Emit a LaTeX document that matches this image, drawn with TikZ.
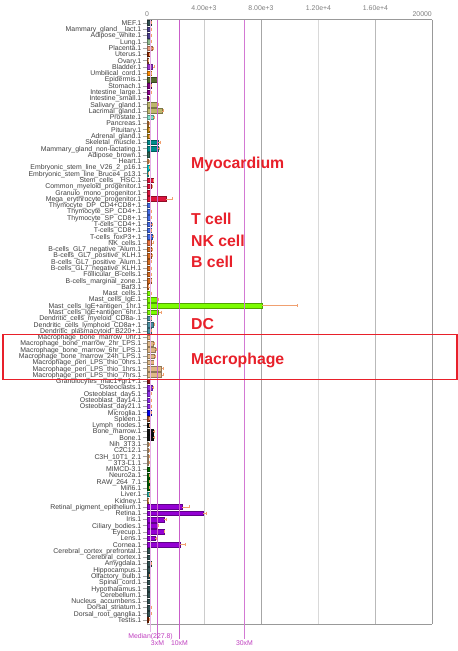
\documentclass[tikz,border=0pt]{standalone}
\usepackage{fontspec}
\setmainfont{Liberation Sans}
\definecolor{cSlate}{HTML}{2F4F4F}
\definecolor{cDSB}{HTML}{483D8B}
\definecolor{cLung}{HTML}{8FBC8F}
\definecolor{cPlac}{HTML}{E9967A}
\definecolor{cUter}{HTML}{8B2500}
\definecolor{cSienna}{HTML}{A0522D}
\definecolor{cOrch}{HTML}{9932CC}
\definecolor{cDOr}{HTML}{FF8C00}
\definecolor{cOlive}{HTML}{556B2F}
\definecolor{cPurp}{HTML}{800080}
\definecolor{cDMag}{HTML}{8B008B}
\definecolor{cKhaki}{HTML}{BDB76B}
\definecolor{cAqua}{HTML}{7FE0C8}
\definecolor{cPeru}{HTML}{CD853F}
\definecolor{cGold}{HTML}{B8860B}
\definecolor{cDCyan}{HTML}{008B8B}
\definecolor{cABrown}{HTML}{2E6B5A}
\definecolor{cSandy}{HTML}{F4A460}
\definecolor{cDTurq}{HTML}{00CED1}
\definecolor{cLSea}{HTML}{20B2AA}
\definecolor{cCrim}{HTML}{DC143C}
\definecolor{cRoyal}{HTML}{4169E1}
\definecolor{cNK}{HTML}{E9703A}
\definecolor{cChoc}{HTML}{D2691E}
\definecolor{cLawn}{HTML}{7CFC00}
\definecolor{cCadet}{HTML}{4A8FA0}
\definecolor{cBurly}{HTML}{DEB887}
\definecolor{cGran}{HTML}{8B1A1A}
\definecolor{cBViol}{HTML}{8A2BE2}
\definecolor{cBlue}{HTML}{0000EE}
\definecolor{cBlack}{HTML}{101010}
\definecolor{cTan}{HTML}{D2B48C}
\definecolor{cDGreen}{HTML}{006400}
\definecolor{cDViol}{HTML}{9400D3}
\definecolor{errc}{HTML}{F0A070}
\definecolor{medc}{HTML}{C040C0}
\definecolor{boxred}{HTML}{E8202A}
\definecolor{lblc}{HTML}{404040}
\tikzset{
  lbl/.style={font=\fontsize{6.9}{7}\selectfont, text=lblc, inner sep=0pt},
  axlbl/.style={font=\fontsize{6.9}{7}\selectfont, text=gray, inner sep=0pt},
  medlbl/.style={font=\fontsize{6.9}{7}\selectfont, text=medc, inner sep=0pt},
  group/.style={font=\bfseries\fontsize{15.8}{16}\selectfont, text=boxred, inner sep=0pt, anchor=base west},
  errbar/.style={draw=errc, line width=0.5pt},
}
\begin{document}
\begin{tikzpicture}[x=1pt,y=-1pt]
\useasboundingbox (0,0) rectangle (458,651);
\fill[white] (0,0) rectangle (458,651);
% grid lines
\draw[gray!40, line width=0.8pt] (204,19.5) -- (204,624);
\draw[gray!70, line width=0.8pt] (261,19.5) -- (261,624);
\draw[gray!30, line width=0.8pt] (318.5,19.5) -- (318.5,624);
\draw[gray!55, line width=0.8pt] (375.5,19.5) -- (375.5,624);
\draw[gray!80, line width=0.8pt] (432,19.5) -- (432,624);
% axes
\draw[gray!80, line width=0.6pt] (147,19.5) -- (432,19.5);
\draw[gray!80, line width=0.6pt] (147,624) -- (432,624);
\draw[gray!80, line width=0.6pt] (147,19.5) -- (147,624);
% axis labels
\node[axlbl, anchor=base] (t0) at (147,16.7) {0};
\node[axlbl, anchor=base] (t4) at (204,10.7) {4.00e+3};
\node[axlbl, anchor=base] (t8) at (261,10.7) {8.00e+3};
\node[axlbl, anchor=base] (t12) at (318.5,10.7) {1.20e+4};
\node[axlbl, anchor=base] (t16) at (375.5,10.7) {1.60e+4};
\node[axlbl, anchor=base east] (t20) at (432,16.7) {20000};
% rows
\foreach \i/\lab/\len/\err/\col in {
1/MEF.1/3.7/0.3/cSlate,
2/Mammary\_gland\_\_lact.1/3.5/0.5/cDSB,
3/Adipose\_white.1/3.5/0.5/cDSB,
4/Lung.1/3.3/0.5/cLung,
5/Placenta.1/5.3/1.2/cPlac,
6/Uterus.1/2/0.3/cUter,
7/Ovary.1/1.3/0.3/cSienna,
8/Bladder.1/5.5/1.6/cOrch,
9/Umbilical\_cord.1/4/0.5/cDOr,
10/Epidermis.1/9.7/0.4/cOlive,
11/Stomach.1/4/0.3/cPurp,
12/Intestine\_large.1/3.5/0.4/cDMag,
13/Intestine\_small.1/1.5/0.3/cDMag,
14/Salivary\_gland.1/9.7/1.6/cKhaki,
15/Lacrimal\_gland.1/14.7/1.7/cKhaki,
16/Prostate.1/6/1.7/cAqua,
17/Pancreas.1/1.5/0.5/cPeru,
18/Pituitary.1/2/0.3/cGold,
19/Adrenal\_gland.1/2/0.3/cGold,
20/Skeletal\_muscle.1/11.3/1.7/cDCyan,
21/Mammary\_gland\_non-lactating.1/11/1.7/cDCyan,
22/Adipose\_brown.1/2.5/0.3/cABrown,
23/Heart.1/1.5/0.5/cSandy,
24/Embryonic\_stem\_line\_V26\_2\_p16.1/2/0.3/cDTurq,
25/Embryonic\_stem\_line\_Bruce4\_p13.1/1/0.3/cLSea,
26/Stem\_cells\_\_HSC.1/5.7/0.3/cCrim,
27/Common\_myeloid\_progenitor.1/4.5/0.3/cCrim,
28/Granulo\_mono\_progenitor.1/3/0.3/cCrim,
29/Mega\_erythrocyte\_progenitor.1/19/6.7/cCrim,
30/Thymocyte\_DP\_CD4+CD8+.1/3.3/0.4/cRoyal,
31/Thymocyte\_SP\_CD4+.1/3.5/0.4/cRoyal,
32/Thymocyte\_SP\_CD8+.1/3.5/0.4/cRoyal,
33/T-cells\_CD4+.1/4/1.5/cRoyal,
34/T-cells\_CD8+.1/3.7/0.5/cRoyal,
35/T-cells\_foxP3+.1/5/1.5/cRoyal,
36/NK\_cells.1/4.5/1.5/cNK,
37/B-cells\_GL7\_negative\_Alum.1/4/1/cChoc,
38/B-cells\_GL7\_positive\_KLH.1/3.8/1/cChoc,
39/B-cells\_GL7\_positive\_Alum.1/3.5/0.5/cChoc,
40/B-cells\_GL7\_negative\_KLH.1/3.5/0.5/cChoc,
41/Follicular\_B-cells.1/3.5/0.5/cChoc,
42/B-cells\_marginal\_zone.1/4/0.5/cChoc,
43/Baf3.1/1.5/0.2/cChoc,
44/Mast\_cells.1/3.5/0.3/cLawn,
45/Mast\_cells\_IgE.1/10/1.6/cLawn,
46/Mast\_cells\_IgE+antigen\_1hr.1/114.7/35.3/cLawn,
47/Mast\_cells\_IgE+antigen\_6hr.1/11.5/2.3/cLawn,
48/Dendritic\_cells\_myeloid\_CD8a-.1/4/0.5/cCadet,
49/Dendritic\_cells\_lymphoid\_CD8a+.1/6.5/0.7/cCadet,
50/Dendritic\_plasmacytoid\_B220+.1/4/0.3/cCadet,
51/Macrophage\_bone\_marrow\_0hr.1/2/0.3/cBurly,
52/Macrophage\_bone\_marrow\_2hr\_LPS.1/6/1.3/cBurly,
53/Macrophage\_bone\_marrow\_6hr\_LPS.1/8/0.8/cBurly,
54/Macrophage\_bone\_marrow\_24h\_LPS.1/7/1/cBurly,
55/Macrophage\_peri\_LPS\_thio\_0hrs.1/5.7/0.8/cBurly,
56/Macrophage\_peri\_LPS\_thio\_1hrs.1/14.5/1.7/cBurly,
57/Macrophage\_peri\_LPS\_thio\_7hrs.1/14.5/1.7/cBurly,
58/Granulocytes\_mac1+gr1+.1/3.3/0.3/cGran,
59/Osteoclasts.1/5/1/cBViol,
60/Osteoblast\_day5.1/3.5/0.5/cBViol,
61/Osteoblast\_day14.1/3.5/0.5/cBViol,
62/Osteoblast\_day21.1/3.5/0.5/cBViol,
63/Microglia.1/4/0.5/cBlue,
64/Spleen.1/2/0.3/cSienna,
65/Lymph\_nodes.1/2/0.3/cBlack,
66/Bone\_marrow.1/6/0.8/cBlack,
67/Bone.1/6/0.8/cBlack,
68/Nih\_3T3.1/1.5/0.3/cTan,
69/C2C12.1/1.5/0.3/cTan,
70/C3H\_10T1\_2.1/1.5/0.3/cTan,
71/3T3-L1.1/1.5/0.3/cTan,
72/MIMCD-3.1/3/0.5/cDGreen,
73/Neuro2a.1/2/0.3/cDGreen,
74/RAW\_264\_7.1/2/0.3/cDGreen,
75/Min6.1/2/0.3/cDGreen,
76/Liver.1/2/0.3/cLSea,
77/Kidney.1/1/0.2/cPeru,
78/Retinal\_pigment\_epithelium.1/34.7/7.6/cDViol,
79/Retina.1/55.7/4/cDViol,
80/Iris.1/17/2/cDViol,
81/Ciliary\_bodies.1/9.7/1.3/cDViol,
82/Eyecup.1/16.7/0.5/cDViol,
83/Lens.1/8/1.6/cDViol,
84/Cornea.1/33/5.3/cDViol,
85/Cerebral\_cortex\_prefrontal.1/3/0.5/cSlate,
86/Cerebral\_cortex.1/3/0.5/cSlate,
87/Amygdala.1/4/0.3/cSlate,
88/Hippocampus.1/3/0.3/cSlate,
89/Olfactory\_bulb.1/2/0.5/cSlate,
90/Spinal\_cord.1/3/0.3/cSlate,
91/Hypothalamus.1/3/0.3/cSlate,
92/Cerebellum.1/3/0.3/cSlate,
93/Nucleus\_accumbens.1/3/0.3/cSlate,
94/Dorsal\_striatum.1/3.5/0.5/cSlate,
95/Dorsal\_root\_ganglia.1/3.5/0.5/cSlate,
96/Testis.1/1.5/0.3/cUter}{
  \pgfmathsetmacro\y{22.9+(\i-1)*6.285}
  \pgfmathsetmacro\xe{147+\len}
  \pgfmathsetmacro\xr{147+\len+\err}
  \draw[gray!70, line width=0.5pt] (142.5,\y) -- (147,\y);
  \node[lbl, anchor=base east] (lab\i) at (141.5,\y+2.45) {\lab};
  \filldraw[fill=\col, draw=\col!65!black, line width=0.4pt] (147,\y-2.3) rectangle (\xe,\y+2.3);
  \draw[errbar] (\xe,\y) -- (\xr,\y);
  \draw[errbar] (\xr,\y-1.5) -- (\xr,\y+1.5);
}
% median lines
\draw[medc!40, line width=0.8pt] (150.3,19.5) -- (150.3,632);
\draw[medc!80, line width=0.8pt] (157,19.5) -- (157,639);
\draw[medc!85, line width=0.8pt] (179.3,19.5) -- (179.3,639);
\draw[medc!70, line width=0.8pt] (244.3,19.5) -- (244.3,639);
\node[medlbl, anchor=base] (med) at (150.5,638.7) {Median(227.8)};
\node[medlbl, anchor=base] (m3) at (157.5,645.5) {3xM};
\node[medlbl, anchor=base] (m10) at (179.5,645.5) {10xM};
\node[medlbl, anchor=base] (m30) at (244.5,645.5) {30xM};
% macrophage box
\draw[boxred, line width=1.4pt] (3,334.7) rectangle (457,379.3);
% group labels
\node[group] (gMyo) at (191,168.3) {Myocardium};
\node[group] (gT) at (191,224) {T cell};
\node[group] (gNK) at (191,246.7) {NK cell};
\node[group] (gB) at (191,267.3) {B cell};
\node[group] (gDC) at (191,329) {DC};
\node[group] (gMac) at (191,364) {Macrophage};
\end{tikzpicture}
\end{document}
